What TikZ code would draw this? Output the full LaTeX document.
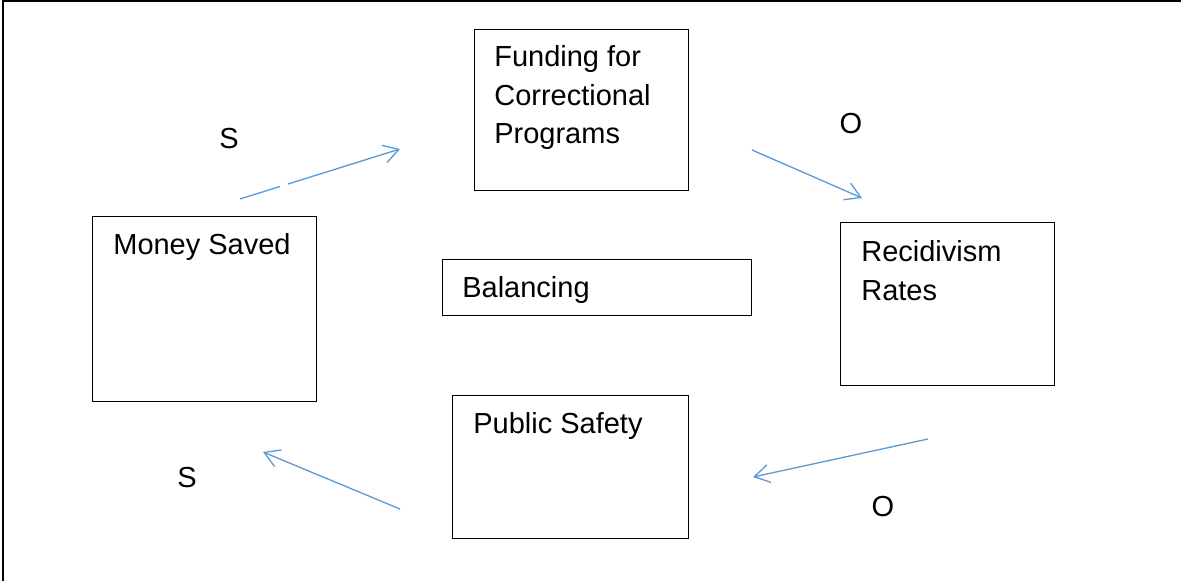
\documentclass[tikz,border=0pt]{standalone}
\usepackage{fontspec}
\setmainfont{Liberation Sans}
\usepackage{tikz}
\usetikzlibrary{arrows.meta, positioning}
\definecolor{loopblue}{RGB}{91,155,213}
\newcommand{\boxfont}{\fontsize{16.5}{22}\selectfont}

\begin{document}
\begin{tikzpicture}[x=0.02cm, y=-0.02cm,
  box/.style={draw, line width=0.6pt, anchor=north west, inner sep=0pt},
  boxtext/.style={font=\boxfont, anchor=base west, align=left, inner sep=0pt},
  sign/.style={font=\boxfont, inner sep=0pt},
  flow/.style={draw=loopblue, line width=0.75pt,
    -{Straight Barb[length=0.3cm, width=0.36cm]}}]
  \useasboundingbox (0,0) rectangle (1181,581);
  \draw[line width=0.04cm] (3,581) -- (3,1.2) -- (1181,1.2);

  % the five boxes
  \node[box, minimum width=4.28cm, minimum height=3.22cm] (fund) at (474,29) {};
  \node[box, minimum width=4.48cm, minimum height=3.70cm] (saved) at (92,216) {};
  \node[box, minimum width=6.18cm, minimum height=1.12cm] (bal) at (442,259) {};
  \node[box, minimum width=4.28cm, minimum height=3.26cm] (recid) at (840,222) {};
  \node[box, minimum width=4.72cm, minimum height=2.86cm] (safety) at (452,395) {};

  % texts (base = last line)
  \node[boxtext] (fundtxt) at ([shift={(20,115)}]fund.north west)
    {Funding for\\Correctional\\Programs};
  \node[boxtext] (savedtxt) at ([shift={(21,39)}]saved.north west) {Money Saved};
  \node[boxtext] (baltxt) at ([shift={(20,38)}]bal.north west) {Balancing};
  \node[boxtext] (recidtxt) at ([shift={(21,78)}]recid.north west)
    {Recidivism\\Rates};
  \node[boxtext] (safetytxt) at ([shift={(21,38)}]safety.north west) {Public Safety};

  % signs
  \node[sign] (s1) at (229,139) {S};
  \node[sign] (o1) at (851,124) {O};
  \node[sign] (o2) at (883,507) {O};
  \node[sign] (s2) at (187,478) {S};

  % arrow ends
  \coordinate (savedout) at (240,199);
  \coordinate (fundin) at (400,149);
  \coordinate (fundout) at (752,150);
  \coordinate (recidin) at (862,198);
  \coordinate (recidout) at (928,439);
  \coordinate (safetyin) at (753,477);
  \coordinate (safetyout) at (400,509);
  \coordinate (savedin) at (263,452);

  \draw[flow, dash pattern=on 0.84cm off 0.16cm on 5cm] (savedout) -- (fundin);
  \draw[flow] (fundout) -- (recidin);
  \draw[flow] (recidout) -- (safetyin);
  \draw[flow] (safetyout) -- (savedin);
\end{tikzpicture}
\end{document}
